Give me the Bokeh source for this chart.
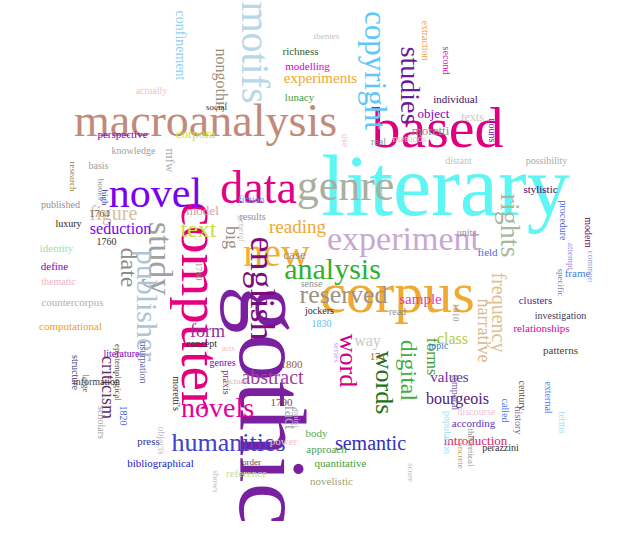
import math
from bokeh.plotting import figure, ColumnDataSource
from bokeh.models import Range1d
from bokeh.core.properties import value
from bokeh.embed import file_html
from bokeh.resources import INLINE

W, H = 614, 521

# word, centre x (px), centre y (px from top), font size (px), colour, vertical
words = ["gothic", "literary", "corpus", "macroanalysis", "based", "computer", "data", "novel",
         "genre", "experiment", "new", "motifs", "copyright", "english", "study", "publisher",
         "date", "text", "figure", "analysis", "reserved", "studies", "rights", "frequency",
         "narrative", "humanities", "novels", "abstract", "word", "words", "digital", "semantic",
         "reading", "criticism", "form", "big", "fact", "class", "forms", "bourgeois", "values",
         "way", "sample", "experiments", "nongothic", "confinement", "richness", "modelling",
         "lunacy", "object", "individual", "moretti", "texts", "seduction", "model", "corpora",
         "mfw", "perspective", "knowledge", "introduction", "relationships", "clusters",
         "investigation", "patterns", "frame", "modern", "possibility", "stylistic", "procedure",
         "history", "according", "population", "press", "bibliographical", "quantitative",
         "novelistic", "reference", "approach", "body", "power", "1800", "1790", "1760", "1764",
         "computational", "countercorpus", "identity", "define", "thematic", "luxury", "published",
         "research", "basis", "actually", "social", "themes", "extraction", "second", "nouns",
         "use", "real", "methods", "distant", "units", "field", "case", "fiction", "results",
         "general", "sense", "jockers", "1830", "174", "read", "topic", "concept", "genres",
         "praxis", "moretti's", "literature", "epistemological", "usurpation", "information",
         "large", "structure", "1820", "scholars", "objects", "discourse", "temporal", "century",
         "called", "external", "terms", "perazzini", "theoretical", "concrete", "attempt",
         "specific", "common", "1810", "score", "shows", "order", "high", "1780", "arts", "books",
         "actual", "point", "series", "1770"]
xs = [272, 445, 397, 205, 437, 200, 258, 155, 345, 403, 276, 255, 375, 262, 160, 147,
      128, 198, 113, 332, 343, 410, 510, 498, 483, 228, 217, 272, 348, 384, 408, 370,
      297, 107, 207, 231, 290, 452, 432, 457, 449, 367, 420, 320, 221, 180, 300, 307,
      299, 433, 455, 430, 472, 120, 202, 195, 170, 122, 133, 475, 541, 535, 560, 560,
      577, 588, 546, 540, 563, 518, 473, 447, 148, 160, 340, 331, 246, 326, 316, 283,
      291, 281, 106, 99, 70, 72, 56, 54, 58, 68, 60, 72, 98, 151, 216, 326, 425, 446,
      492, 345, 378, 409, 458, 466, 487, 294, 251, 252, 241, 311, 319, 321, 377, 397,
      438, 201, 222, 226, 176, 121, 117, 143, 96, 85, 75, 123, 101, 161, 476, 455, 522,
      505, 548, 562, 500, 470, 460, 570, 560, 590, 455, 410, 215, 251, 104, 198, 228,
      100, 236, 296, 336, 318]
ys = [405, 185, 292, 120, 127, 305, 187, 192, 185, 238, 252, 52, 70, 288, 258, 305,
      267, 228, 212, 268, 294, 85, 225, 312, 330, 442, 407, 376, 360, 382, 370, 442,
      226, 387, 330, 237, 417, 338, 356, 398, 376, 340, 298, 77, 80, 45, 50, 65,
      96, 113, 98, 130, 116, 228, 210, 133, 160, 133, 150, 440, 327, 299, 315, 349,
      272, 232, 160, 188, 220, 420, 422, 432, 440, 462, 462, 480, 472, 448, 432, 440,
      364, 402, 241, 213, 325, 301, 247, 265, 281, 223, 204, 176, 165, 90, 106, 35,
      40, 60, 130, 140, 141, 138, 160, 232, 251, 254, 199, 216, 228, 283, 310, 323,
      356, 311, 345, 343, 362, 382, 393, 353, 372, 362, 381, 383, 372, 415, 422, 440,
      411, 392, 395, 410, 397, 422, 447, 447, 453, 256, 282, 266, 312, 472, 481, 461,
      197, 271, 347, 189, 380, 418, 352]
sizes = [96, 86, 58, 46, 58, 55, 46, 42, 44, 34, 40, 40, 31, 36, 34, 30,
         24, 24, 20, 30, 26, 28, 28, 20, 18, 26, 28, 20, 26, 26, 24, 20,
         19, 18, 18, 18, 16, 16, 16, 16, 15, 16, 15, 15, 16, 14, 11, 11,
         11, 13, 11, 13, 12, 16, 13, 13, 13, 11, 10, 13, 11, 11, 10, 11,
         11, 10, 10, 11, 10, 10, 11, 10, 11, 11, 11, 11, 11, 11, 11, 11,
         11, 11, 10, 10, 11, 11, 11, 11, 10, 10, 10, 9, 10, 10, 9, 9,
         10, 10, 10, 10, 10, 10, 10, 10, 11, 13, 10, 10, 9, 10, 10, 10,
         10, 10, 10, 10, 10, 10, 10, 10, 9, 10, 10, 9, 10, 10, 10, 10,
         10, 10, 10, 10, 10, 10, 10, 9, 9, 9, 9, 9, 9, 9, 9, 9,
         9, 9, 9, 9, 9, 9, 9, 9]
colors = ["#7a1fa0", "#5ef5f5", "#f0aa30", "#c28a7a", "#e0007f", "#e6007e", "#e0008a", "#7a00f0",
          "#a8b0a0", "#c8a8d0", "#f2ad33", "#b8d8e8", "#60c8f8", "#7d0b7d", "#a0a0a0", "#b0c4d4",
          "#8c8c8c", "#c8e040", "#d8c0a0", "#30b030", "#a09080", "#6a1b9a", "#a8b8a0", "#e0c090",
          "#d8b888", "#4040c8", "#e000a0", "#a040a0", "#d0008a", "#207020", "#40b040", "#3030c0",
          "#f0a830", "#603060", "#9030a0", "#a09080", "#9aa8b8", "#b0d040", "#40a040", "#502080",
          "#7030a0", "#c8c8c8", "#e040b0", "#f0a830", "#a09080", "#90d0f0", "#306030", "#d000d0",
          "#40a040", "#8000c0", "#401060", "#909090", "#c8c8c8", "#7a00f0", "#d0a0a0", "#c8e040",
          "#b0b0b0", "#8000c0", "#a0a0a0", "#e0206a", "#e000a0", "#602090", "#404060", "#604000",
          "#4080f0", "#600060", "#a0b0a0", "#500060", "#4060e0", "#8060a0", "#6030c0", "#a0e0f0",
          "#303090", "#2020c0", "#40a040", "#a0a070", "#c0e0a0", "#50a050", "#50b050", "#f0c0c0",
          "#a06030", "#904040", "#303030", "#806040", "#f0a020", "#b0b0b0", "#a0e0a0", "#8000c0",
          "#f0b0c0", "#302020", "#909090", "#a08030", "#a0a0a0", "#f0c0c0", "#303030", "#c0c0c0",
          "#f0a030", "#e000c0", "#8000c0", "#f0c0d0", "#909090", "#d0d0d0", "#c0c0c0", "#909090",
          "#4070f0", "#909090", "#60a0f0", "#909090", "#c0c0c0", "#909090", "#303030", "#60c0f0",
          "#a06030", "#909090", "#4080c0", "#303030", "#8000c0", "#703070", "#302020", "#8000c0",
          "#505050", "#6060a0", "#404040", "#606060", "#404080", "#4060f0", "#a0a0a0", "#c0c0c0",
          "#f0c0d0", "#7060a0", "#704040", "#4070f0", "#4070f0", "#a0e0f0", "#303030", "#909090",
          "#c0a060", "#a080f0", "#8080a0", "#a0a0d0", "#a0a0a0", "#c0c0c0", "#c0c0c0", "#505050",
          "#3030a0", "#a08080", "#f0c0c0", "#a0a0a0", "#c0c0c0", "#c0c0c0", "#d0a0f0", "#a0a0a0"]
vertical = [1, 0, 0, 0, 0, 1, 0, 0, 0, 0, 0, 1, 1, 1, 1, 1,
            1, 0, 0, 0, 0, 1, 1, 1, 1, 0, 0, 0, 1, 1, 1, 0,
            0, 1, 0, 1, 1, 0, 1, 0, 0, 0, 0, 0, 1, 1, 0, 0,
            0, 0, 0, 0, 0, 0, 0, 0, 1, 0, 0, 0, 0, 0, 0, 0,
            0, 1, 0, 0, 1, 1, 0, 1, 0, 0, 0, 0, 0, 0, 0, 0,
            0, 0, 0, 0, 0, 0, 0, 0, 0, 0, 0, 1, 0, 0, 0, 0,
            1, 1, 1, 1, 0, 0, 0, 0, 0, 0, 0, 0, 1, 0, 0, 0,
            0, 0, 0, 0, 0, 1, 1, 0, 1, 1, 0, 1, 1, 1, 1, 1,
            0, 1, 1, 1, 1, 1, 0, 1, 1, 1, 1, 1, 1, 1, 1, 0,
            1, 1, 0, 1, 0, 1, 1, 1]

n = min(len(words), len(xs), len(ys), len(sizes), len(colors), len(vertical))
source = ColumnDataSource(dict(
    text=words[:n],
    x=xs[:n],
    y=[H - v for v in ys[:n]],
    size=[f"{s}px" for s in sizes[:n]],
    color=colors[:n],
    angle=[-math.pi / 2 if v else 0 for v in vertical[:n]],
))

p = figure(width=W, height=H, x_range=Range1d(0, W), y_range=Range1d(0, H),
           output_backend="svg", toolbar_location=None, min_border=0)
p.axis.visible = False
p.grid.visible = False
p.outline_line_color = None

p.text(x="x", y="y", text="text", angle="angle", text_color="color",
       text_font_size="size", text_font=value("Liberation Serif"),
       text_align="center", text_baseline="middle", source=source)

open("out.html", "w").write(file_html(p, INLINE))
